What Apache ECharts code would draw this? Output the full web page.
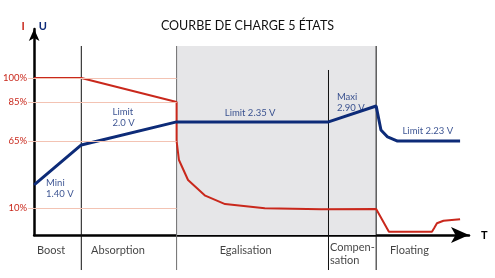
<!DOCTYPE html>
<html>
<head>
<meta charset="utf-8">
<script src="https://cdn.jsdelivr.net/npm/echarts@6/dist/echarts.min.js"></script>
<style>html,body{margin:0;padding:0;background:#fff}#c{width:495px;height:278px}</style>
</head>
<body>
<div id="c"></div>
<script>
// Schematic chart: time and level are in arbitrary schematic units (0..100)
const phaseNames = ['Boost', 'Absorption', 'Egalisation', 'Compen-\nsation', 'Floating'];
const phaseBounds = [10.845, 32.76, 67.69, 78.65];      // phase boundaries (time units)
const phaseLabelT = [3.9, 19.29, 48.63, 68.04, 86.3];   // label anchors (time units)
const levelLabels = ['100%', '85%', '65%', '10%'];
const levelValues = [76.2, 64.6, 45.6, 12.9];

// Current curve (I)
const currentT = [0, 10.845, 32.76, 32.76, 33.3, 35.39, 39.34, 43.9, 53.04, 65.98, 78.65, 81.58, 91.48, 92.0, 92.63, 94.13, 97.95];
const currentY = [76.2, 76.2, 64.6, 45.6, 36.4, 26.7, 19.1, 15.0, 13.0, 12.5, 12.6, 1.6, 1.6, 3.4, 5.7, 6.9, 7.6];

// Voltage curve (U)
const voltageT = [0, 10.845, 32.76, 67.69, 78.65, 79.75, 81.28, 83.56, 97.95];
const voltageY = [24.3, 43.7, 54.9, 54.9, 62.6, 51.0, 47.6, 45.6, 45.6];

// Voltage annotations
const noteTexts = ['Mini\n1.40 V', 'Limit\n2.0 V', 'Limit 2.35 V', 'Maxi\n2.90 V', 'Limit 2.23 V'];
const noteT = [2.74, 18.04, 43.84, 69.63, 84.7];
const noteY = [27.9, 62.4, 61.9, 69.7, 53.2];

const RED = '#c9281c', NAVY = '#0d2b78', FONT = 'Lato';
const TOP = 91.75, BOTTOM = -17, COMP_TOP = 80.1;

const zip = (a, b) => a.map((v, i) => [v, b[i]]);

const hLines = levelValues.map(v => [
  { coord: [0, v], lineStyle: { color: '#f3c3b3', width: 1, type: 'solid' } },
  { coord: [phaseBounds[1], v] }
]);

const boundarySeries = phaseBounds.map((t, i) => ({
  name: 'phase' + i, type: 'line', z: 2, clip: false, silent: true,
  showSymbol: false, symbol: 'none',
  data: [[t, i === 2 ? COMP_TOP : TOP], [t, BOTTOM]],
  lineStyle: { color: i === 1 ? '#6e6e6e' : '#111', width: 1 }
}));

const chart = echarts.init(document.getElementById('c'), null, { renderer: 'canvas' });
chart.setOption({
  animation: false,
  title: {
    text: 'COURBE DE CHARGE 5 ÉTATS',
    left: 'center', top: 19, padding: 0,
    textStyle: { fontFamily: FONT, fontSize: 12.5, fontWeight: 'normal', color: '#111' }
  },
  grid: { left: 31, right: 26, top: 29, bottom: 43 },
  xAxis: {
    type: 'value', min: 0, max: 100,
    name: 'T', nameLocation: 'end', nameGap: 12,
    nameTextStyle: { fontFamily: FONT, fontSize: 11, fontWeight: 'bold', color: '#000', verticalAlign: 'middle' },
    axisLine: { show: true, symbol: ['none', 'arrow'], symbolSize: [12, 18], lineStyle: { color: '#000', width: 2.5 } },
    axisTick: { show: false }, axisLabel: { show: false }, splitLine: { show: false }
  },
  yAxis: {
    type: 'value', min: 0, max: 100,
    name: '{i|I}{g|}{u|U}', nameLocation: 'end', nameGap: -3,
    nameTextStyle: {
      rich: {
        i: { fontFamily: FONT, fontSize: 11, fontWeight: 'bold', color: RED },
        g: { width: 14 },
        u: { fontFamily: FONT, fontSize: 11, fontWeight: 'bold', color: NAVY }
      }
    },
    axisLine: { show: true, symbol: ['none', 'arrow'], symbolSize: [8, 12], lineStyle: { color: '#000', width: 2.5 } },
    axisTick: { show: true, customValues: levelValues, length: 6, lineStyle: { color: '#f3c3b3', width: 1 } },
    axisLabel: {
      show: true, customValues: levelValues, margin: 7,
      fontFamily: FONT, fontSize: 9.5, color: RED,
      formatter: v => { const i = levelValues.findIndex(x => Math.abs(x - v) < 1e-6); return i >= 0 ? levelLabels[i] : ''; }
    },
    splitLine: { show: false }
  },
  series: [
    {
      name: 'frame', type: 'line', data: [], z: 1, clip: false, silent: true,
      markArea: {
        silent: true,
        itemStyle: { color: '#e6e6e8' },
        data: [[{ coord: [phaseBounds[1], TOP] }, { coord: [phaseBounds[3], BOTTOM] }]]
      },
      markLine: {
        silent: true, symbol: ['none', 'none'], label: { show: false },
        data: hLines
      }
    },
    ...boundarySeries,
    {
      name: 'I', type: 'line', data: zip(currentT, currentY), z: 3,
      showSymbol: false, symbol: 'none', lineStyle: { color: RED, width: 2 }, itemStyle: { color: RED }
    },
    {
      name: 'U', type: 'line', data: zip(voltageT, voltageY), z: 4,
      showSymbol: false, symbol: 'none', lineStyle: { color: NAVY, width: 3 }, itemStyle: { color: NAVY }
    },
    {
      name: 'notes', type: 'scatter', symbolSize: 0, z: 5, clip: false, silent: true,
      data: noteT.map((t, i) => [t, noteY[i], noteTexts[i]]),
      label: {
        show: true, position: [0, 0], align: 'left', verticalAlign: 'top',
        formatter: p => p.data[2], fontFamily: FONT, fontSize: 9.5, lineHeight: 11, color: NAVY
      }
    },
    {
      name: 'phases', type: 'scatter', symbolSize: 0, z: 5, clip: false, silent: true,
      data: phaseNames.map((n, i) => ({
        value: [phaseLabelT[i], i === 3 ? -9.0 : -7.5, n],
        label: i === 3 ? { align: 'left' } : undefined
      })),
      label: {
        show: true, position: [0, 0], align: 'center', verticalAlign: 'middle',
        formatter: p => p.data.value[2], fontFamily: FONT, fontSize: 11, lineHeight: 13, color: '#111'
      }
    }
  ]
});
</script>
</body>
</html>
